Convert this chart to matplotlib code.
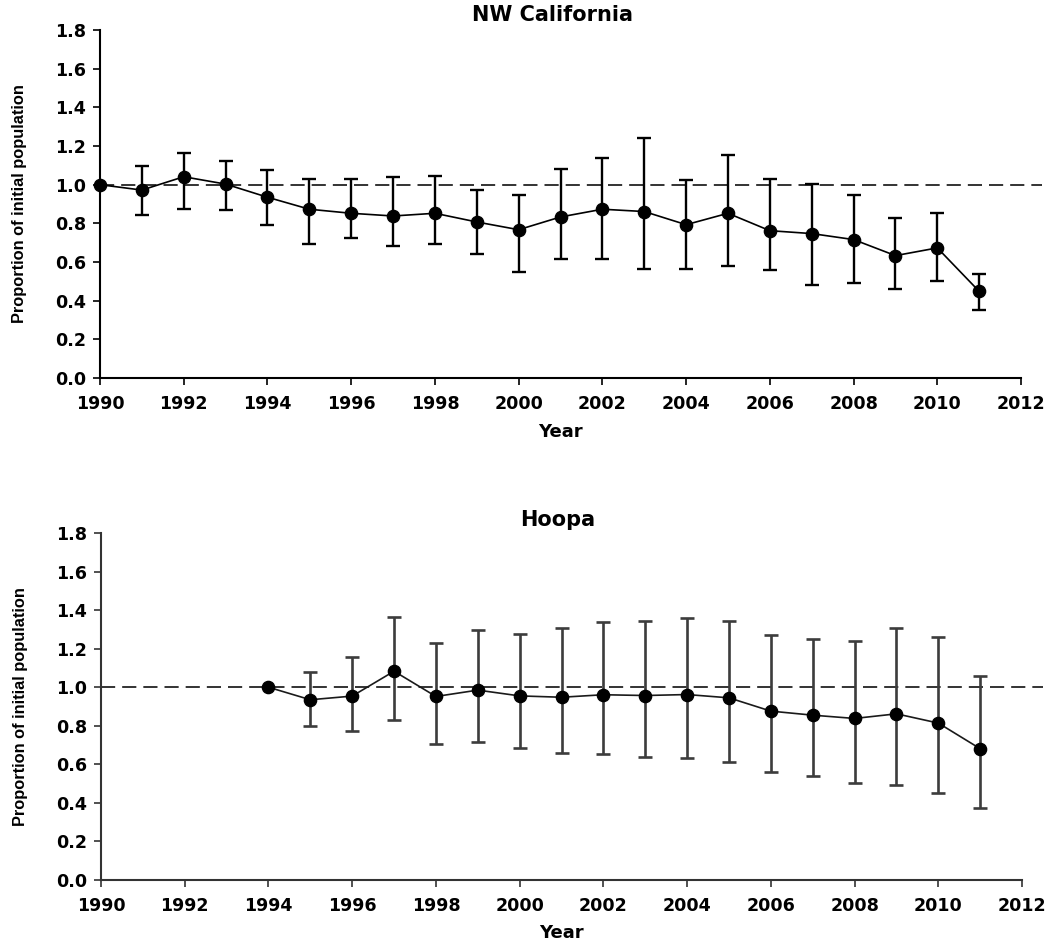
import numpy as np
import matplotlib
matplotlib.use("Agg")
import matplotlib.pyplot as plt

nan = np.nan

# ---- data ----
years_nw = list(range(1990, 2012))
nw_mean = [1.00, 0.972, 1.041, 1.003, 0.935, 0.873, 0.852, 0.838, 0.852, 0.807, 0.767,
           0.833, 0.873, 0.861, 0.793, 0.852, 0.762, 0.747, 0.716, 0.633, 0.673, 0.448]
nw_upper = [nan, 1.097, 1.162, 1.123, 1.076, 1.031, 1.027, 1.041, 1.047, 0.971, 0.948,
            1.083, 1.136, 1.240, 1.026, 1.155, 1.027, 1.005, 0.948, 0.828, 0.855, 0.539]
nw_lower = [nan, 0.845, 0.874, 0.869, 0.790, 0.695, 0.726, 0.683, 0.693, 0.643, 0.547,
            0.614, 0.616, 0.566, 0.566, 0.578, 0.559, 0.481, 0.491, 0.462, 0.502, 0.352]

years_hoopa = list(range(1994, 2012))
hoopa_mean = [1.00, 0.935, 0.954, 1.083, 0.952, 0.985, 0.955, 0.948, 0.961, 0.957,
              0.962, 0.945, 0.876, 0.855, 0.838, 0.862, 0.814, 0.681]
hoopa_upper = [nan, 1.078, 1.157, 1.366, 1.228, 1.295, 1.276, 1.305, 1.338, 1.342,
               1.359, 1.345, 1.271, 1.250, 1.238, 1.305, 1.262, 1.060]
hoopa_lower = [nan, 0.797, 0.773, 0.829, 0.707, 0.716, 0.685, 0.659, 0.655, 0.640,
               0.631, 0.612, 0.559, 0.539, 0.502, 0.495, 0.452, 0.376]

titles = ["NW California", "Hoopa"]
reference_level = 1.0
x_ticks = list(range(1990, 2013, 2))
y_ticks = [0.0, 0.2, 0.4, 0.6, 0.8, 1.0, 1.2, 1.4, 1.6, 1.8]
ylabel = "Proportion of initial population"
xlabel = "Year"

W, H = 1053, 946
fig = plt.figure(figsize=(W / 100, H / 100), dpi=100)

tick_font = dict(family="DejaVu Sans", weight="bold", size=12.6)


def panel(rect, years, mean, upper, lower, title, title_xy, col_err, col_line, col_axis, elw):
    ax = fig.add_axes(rect)
    m = np.array(mean)
    up = np.array(upper)
    lo = np.array(lower)
    yerr = np.vstack([m - lo, up - m])
    ax.plot([1990, 2012.5], [reference_level, reference_level], color="#111111",
            lw=1.2, linestyle=(0, (8.5, 4.2)), zorder=1, clip_on=False)
    ax.errorbar(years, m, yerr=yerr, fmt="none", ecolor=col_err, elinewidth=elw,
                capsize=5, capthick=elw, zorder=2, clip_on=False)
    ax.plot(years, m, color=col_line, lw=1.2, marker="o", markersize=8.8,
            markerfacecolor="black", markeredgecolor="black", zorder=3, clip_on=False)
    ax.set_xlim(1990, 2012.5)
    ax.set_ylim(0, 1.8)
    ax.set_xticks(x_ticks)
    ax.set_yticks(y_ticks)
    ax.set_xticklabels([str(t) for t in x_ticks], fontdict=tick_font)
    ax.set_yticklabels([f"{t:.1f}" for t in y_ticks], fontdict=tick_font)
    for s in ["top", "right"]:
        ax.spines[s].set_visible(False)
    for s in ["left", "bottom"]:
        ax.spines[s].set_linewidth(1.5)
        ax.spines[s].set_color(col_axis)
    ax.spines["bottom"].set_bounds(1990, 2012)
    ax.tick_params(direction="out", length=5, width=1.2, color=col_axis)
    ax.tick_params(axis="x", pad=7)
    ax.tick_params(axis="y", pad=5)
    ax.set_ylabel(ylabel, family="Liberation Sans", weight="bold", size=11.8)
    ax.yaxis.set_label_coords(-0.077, 0.5)
    ax.set_xlabel(xlabel, family="DejaVu Sans", weight="bold", size=13, va="top")
    ax.xaxis.set_label_coords(0.489, -0.128)
    fig.text(title_xy[0] / W, 1 - title_xy[1] / H, title, family="DejaVu Sans",
             weight="bold", size=15, ha="center", va="baseline")
    return ax


def rect_from_px(left, right, top, bottom):
    return [left / W, 1 - bottom / H, (right - left) / W, (bottom - top) / H]


panel(rect_from_px(100, 1042, 30, 378), years_nw, nw_mean, nw_upper, nw_lower,
      titles[0], (552, 21), "black", "black", "black", 1.7)
panel(rect_from_px(101, 1043, 533, 880), years_hoopa, hoopa_mean, hoopa_upper, hoopa_lower,
      titles[1], (558, 526), "#3c3c3c", "#1a1a1a", "#333333", 1.9)

fig.savefig("out.png", dpi=100, facecolor="white")
